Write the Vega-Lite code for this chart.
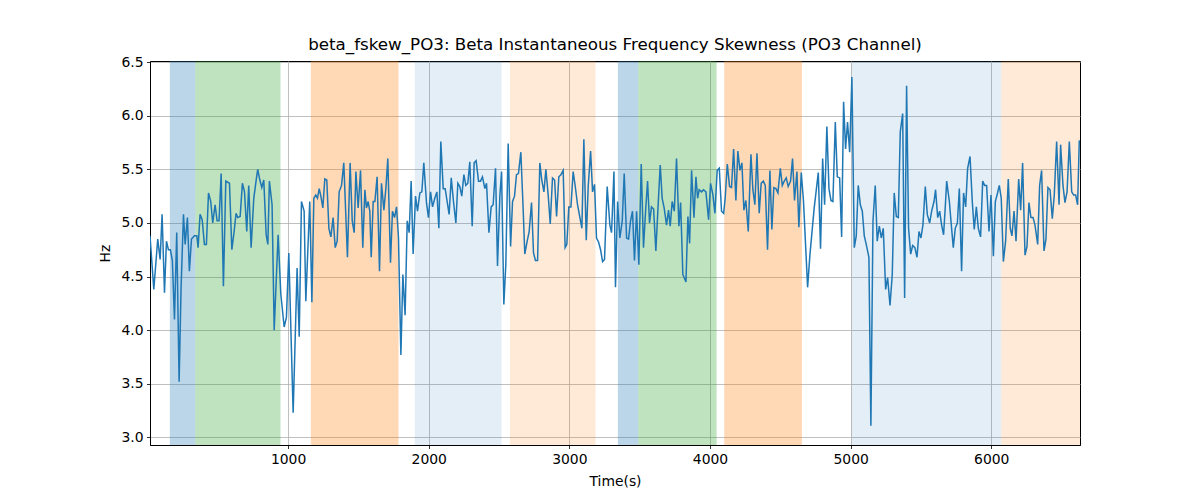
{
  "$schema": "https://vega.github.io/schema/vega-lite/v6.json",
  "width": 930,
  "height": 384,
  "autosize": {"type": "none"},
  "padding": {"left": 150, "top": 61, "right": 120, "bottom": 55},
  "background": "white",
  "title": {"text": "beta_fskew_PO3: Beta Instantaneous Frequency Skewness (PO3 Channel)", "font": "DejaVu Sans", "fontSize": 16.7, "fontWeight": "normal", "color": "black", "offset": 1},
  "config": {
    "view": {"stroke": "black", "strokeWidth": 1},
    "axis": {"labelFont": "DejaVu Sans", "labelFontSize": 13.9, "labelColor": "black", "titleFont": "DejaVu Sans", "titleFontSize": 13.9, "titleFontWeight": "normal", "titleColor": "black", "tickColor": "black", "tickSize": 3.5, "tickWidth": 0.8, "domainColor": "black", "domainWidth": 1, "gridColor": "#b0b0b0", "gridWidth": 0.8, "labelPadding": 3.5, "grid": true}
  },
  "datasets": {
    "bands": [
      {"start": 159, "end": 341, "period": "P1"},
      {"start": 341, "end": 946, "period": "P2"},
      {"start": 1162, "end": 1785, "period": "P3"},
      {"start": 1901, "end": 2518, "period": "P4"},
      {"start": 2577, "end": 3186, "period": "P5"},
      {"start": 3345, "end": 3490, "period": "P1"},
      {"start": 3490, "end": 4047, "period": "P2"},
      {"start": 4101, "end": 4654, "period": "P3"},
      {"start": 5007, "end": 6071, "period": "P4"},
      {"start": 6071, "end": 6631, "period": "P5"}
    ],
    "series": [
      {"t":18,"hz":4.88},{"t":45,"hz":4.38},{"t":73,"hz":4.85},{"t":90,"hz":4.66},{"t":104,"hz":5.08},{"t":121,"hz":4.35},{"t":135,"hz":4.83},{"t":149,"hz":4.75},{"t":163,"hz":4.75},{"t":177,"hz":4.65},{"t":192,"hz":4.10},{"t":208,"hz":4.91},{"t":225,"hz":3.52},{"t":239,"hz":4.40},{"t":256,"hz":5.08},{"t":268,"hz":4.80},{"t":284,"hz":5.05},{"t":298,"hz":4.55},{"t":313,"hz":4.85},{"t":334,"hz":4.88},{"t":351,"hz":4.88},{"t":360,"hz":4.77},{"t":374,"hz":5.08},{"t":389,"hz":5.03},{"t":405,"hz":4.80},{"t":419,"hz":4.80},{"t":434,"hz":5.28},{"t":450,"hz":5.20},{"t":464,"hz":5.00},{"t":481,"hz":5.17},{"t":495,"hz":5.02},{"t":509,"hz":5.02},{"t":524,"hz":5.46},{"t":540,"hz":4.41},{"t":557,"hz":5.39},{"t":583,"hz":5.37},{"t":600,"hz":4.75},{"t":616,"hz":4.92},{"t":630,"hz":5.09},{"t":642,"hz":5.05},{"t":659,"hz":5.06},{"t":675,"hz":5.37},{"t":690,"hz":5.29},{"t":706,"hz":4.92},{"t":720,"hz":5.35},{"t":737,"hz":4.77},{"t":756,"hz":5.23},{"t":773,"hz":5.40},{"t":784,"hz":5.50},{"t":799,"hz":5.40},{"t":813,"hz":5.33},{"t":827,"hz":5.40},{"t":844,"hz":4.89},{"t":856,"hz":4.80},
      {"t":867,"hz":5.39},{"t":886,"hz":5.17},{"t":901,"hz":4.00},{"t":929,"hz":4.89},{"t":948,"hz":4.34},{"t":972,"hz":4.03},{"t":988,"hz":4.12},{"t":1005,"hz":4.72},{"t":1036,"hz":3.23},{"t":1064,"hz":4.58},{"t":1079,"hz":3.94},{"t":1095,"hz":5.20},{"t":1114,"hz":5.11},{"t":1126,"hz":4.27},{"t":1154,"hz":5.20},{"t":1169,"hz":4.26},{"t":1183,"hz":5.23},{"t":1197,"hz":5.26},{"t":1209,"hz":5.23},{"t":1221,"hz":5.32},{"t":1233,"hz":5.25},{"t":1247,"hz":5.14},{"t":1261,"hz":5.41},{"t":1275,"hz":5.40},{"t":1290,"hz":4.95},{"t":1304,"hz":4.87},{"t":1320,"hz":5.05},{"t":1335,"hz":4.77},{"t":1349,"hz":4.83},{"t":1363,"hz":5.29},{"t":1380,"hz":5.35},{"t":1396,"hz":5.56},{"t":1422,"hz":4.68},{"t":1441,"hz":5.56},{"t":1456,"hz":5.02},{"t":1470,"hz":4.91},{"t":1482,"hz":5.48},{"t":1498,"hz":5.14},{"t":1515,"hz":5.49},{"t":1531,"hz":4.77},{"t":1546,"hz":5.31},{"t":1557,"hz":5.14},{"t":1569,"hz":5.20},{"t":1581,"hz":5.11},{"t":1591,"hz":4.68},{"t":1605,"hz":5.20},{"t":1617,"hz":5.20},{"t":1633,"hz":5.43},{"t":1650,"hz":4.55},{"t":1664,"hz":5.37},
      {"t":1681,"hz":5.12},{"t":1695,"hz":5.32},{"t":1709,"hz":5.60},{"t":1728,"hz":4.63},{"t":1742,"hz":5.11},{"t":1757,"hz":5.05},{"t":1771,"hz":5.15},{"t":1785,"hz":4.86},{"t":1802,"hz":3.77},{"t":1816,"hz":4.52},{"t":1832,"hz":4.14},{"t":1847,"hz":5.02},{"t":1861,"hz":4.91},{"t":1875,"hz":5.39},{"t":1889,"hz":4.71},{"t":1906,"hz":5.25},{"t":1920,"hz":5.11},{"t":1937,"hz":5.28},{"t":1951,"hz":5.29},{"t":1965,"hz":5.56},{"t":1984,"hz":5.19},{"t":1998,"hz":5.05},{"t":2013,"hz":5.29},{"t":2027,"hz":5.15},{"t":2043,"hz":5.23},{"t":2058,"hz":5.29},{"t":2072,"hz":4.95},{"t":2086,"hz":5.76},{"t":2103,"hz":5.32},{"t":2117,"hz":5.32},{"t":2131,"hz":5.20},{"t":2145,"hz":5.08},{"t":2160,"hz":5.42},{"t":2176,"hz":5.20},{"t":2193,"hz":5.00},{"t":2207,"hz":5.37},{"t":2221,"hz":5.34},{"t":2235,"hz":5.25},{"t":2250,"hz":5.45},{"t":2264,"hz":5.35},{"t":2278,"hz":5.37},{"t":2292,"hz":5.57},{"t":2309,"hz":4.97},{"t":2323,"hz":5.56},{"t":2337,"hz":5.58},{"t":2354,"hz":5.39},{"t":2368,"hz":5.39},{"t":2382,"hz":5.43},{"t":2399,"hz":5.32},{"t":2411,"hz":5.37},{"t":2428,"hz":4.91},{"t":2444,"hz":5.15},{"t":2458,"hz":5.17},{"t":2475,"hz":5.51},{"t":2489,"hz":4.60},{"t":2506,"hz":5.26},
      {"t":2518,"hz":5.48},{"t":2534,"hz":4.24},{"t":2548,"hz":4.61},{"t":2565,"hz":5.74},{"t":2582,"hz":4.78},{"t":2596,"hz":5.20},{"t":2610,"hz":5.25},{"t":2624,"hz":5.45},{"t":2638,"hz":5.46},{"t":2655,"hz":5.66},{"t":2672,"hz":5.11},{"t":2683,"hz":4.71},{"t":2700,"hz":4.83},{"t":2714,"hz":4.92},{"t":2731,"hz":5.19},{"t":2745,"hz":4.72},{"t":2759,"hz":4.65},{"t":2774,"hz":4.65},{"t":2790,"hz":5.56},{"t":2804,"hz":5.40},{"t":2819,"hz":5.29},{"t":2833,"hz":5.50},{"t":2850,"hz":5.25},{"t":2864,"hz":4.99},{"t":2880,"hz":5.42},{"t":2895,"hz":5.40},{"t":2909,"hz":5.06},{"t":2925,"hz":5.43},{"t":2940,"hz":5.45},{"t":2956,"hz":5.49},{"t":2970,"hz":4.77},{"t":2982,"hz":4.80},{"t":2996,"hz":5.15},{"t":3011,"hz":5.15},{"t":3027,"hz":5.48},{"t":3042,"hz":5.34},{"t":3058,"hz":5.17},{"t":3075,"hz":5.05},{"t":3089,"hz":4.95},{"t":3103,"hz":5.78},{"t":3120,"hz":4.84},{"t":3134,"hz":5.34},{"t":3151,"hz":5.67},{"t":3165,"hz":5.29},{"t":3179,"hz":5.36},{"t":3193,"hz":4.86},{"t":3208,"hz":4.82},{"t":3222,"hz":4.75},{"t":3236,"hz":4.64},{"t":3250,"hz":4.66},{"t":3269,"hz":5.34},{"t":3288,"hz":4.98},{"t":3300,"hz":4.91},{"t":3317,"hz":5.48},
      {"t":3328,"hz":4.40},{"t":3343,"hz":5.20},{"t":3359,"hz":4.86},{"t":3376,"hz":5.02},{"t":3390,"hz":5.46},{"t":3407,"hz":4.86},{"t":3421,"hz":4.85},{"t":3435,"hz":5.02},{"t":3449,"hz":5.11},{"t":3463,"hz":4.65},{"t":3478,"hz":5.11},{"t":3494,"hz":4.61},{"t":3511,"hz":5.55},{"t":3527,"hz":4.77},{"t":3542,"hz":5.11},{"t":3556,"hz":5.39},{"t":3570,"hz":5.00},{"t":3584,"hz":5.15},{"t":3599,"hz":5.13},{"t":3615,"hz":4.74},{"t":3629,"hz":5.11},{"t":3646,"hz":5.54},{"t":3660,"hz":5.23},{"t":3674,"hz":5.14},{"t":3691,"hz":4.98},{"t":3705,"hz":5.12},{"t":3717,"hz":4.97},{"t":3731,"hz":5.20},{"t":3746,"hz":5.11},{"t":3762,"hz":5.60},{"t":3779,"hz":4.97},{"t":3791,"hz":5.19},{"t":3807,"hz":4.52},{"t":3829,"hz":4.45},{"t":3843,"hz":5.06},{"t":3855,"hz":4.81},{"t":3869,"hz":5.49},{"t":3886,"hz":5.05},{"t":3900,"hz":5.43},{"t":3912,"hz":5.23},{"t":3923,"hz":5.31},{"t":3940,"hz":5.29},{"t":3954,"hz":5.31},{"t":3971,"hz":5.29},{"t":3990,"hz":5.03},{"t":4004,"hz":5.37},{"t":4021,"hz":5.26},{"t":4035,"hz":5.09},{"t":4051,"hz":5.49},{"t":4066,"hz":5.51},{"t":4082,"hz":5.11},{"t":4097,"hz":5.09},{"t":4108,"hz":5.23},{"t":4123,"hz":5.55},
      {"t":4139,"hz":5.34},{"t":4153,"hz":5.33},{"t":4168,"hz":5.69},{"t":4184,"hz":5.21},{"t":4198,"hz":5.67},{"t":4213,"hz":5.49},{"t":4227,"hz":5.56},{"t":4241,"hz":5.12},{"t":4255,"hz":5.21},{"t":4272,"hz":4.92},{"t":4291,"hz":5.64},{"t":4305,"hz":5.31},{"t":4319,"hz":5.17},{"t":4334,"hz":5.65},{"t":4350,"hz":5.09},{"t":4364,"hz":5.37},{"t":4379,"hz":5.39},{"t":4393,"hz":5.35},{"t":4409,"hz":4.75},{"t":4426,"hz":5.49},{"t":4440,"hz":4.94},{"t":4454,"hz":5.33},{"t":4469,"hz":5.32},{"t":4483,"hz":5.28},{"t":4500,"hz":5.51},{"t":4514,"hz":5.35},{"t":4528,"hz":5.39},{"t":4542,"hz":5.42},{"t":4556,"hz":5.34},{"t":4573,"hz":5.39},{"t":4587,"hz":5.60},{"t":4601,"hz":5.21},{"t":4618,"hz":5.48},{"t":4632,"hz":4.96},{"t":4649,"hz":5.47},{"t":4665,"hz":5.20},{"t":4694,"hz":4.40},{"t":4711,"hz":4.71},{"t":4741,"hz":5.14},{"t":4770,"hz":5.47},{"t":4786,"hz":4.76},{"t":4801,"hz":5.60},{"t":4815,"hz":5.17},{"t":4831,"hz":5.90},{"t":4846,"hz":5.32},{"t":4860,"hz":5.21},{"t":4874,"hz":5.20},{"t":4891,"hz":5.94},{"t":4905,"hz":5.43},{"t":4922,"hz":5.42},{"t":4936,"hz":4.87},{"t":4950,"hz":6.13},
      {"t":4964,"hz":5.69},{"t":4978,"hz":5.94},{"t":4993,"hz":5.66},{"t":5009,"hz":6.36},{"t":5026,"hz":4.77},{"t":5040,"hz":4.88},{"t":5054,"hz":5.35},{"t":5069,"hz":5.17},{"t":5083,"hz":5.11},{"t":5097,"hz":4.88},{"t":5111,"hz":4.80},{"t":5130,"hz":4.68},{"t":5144,"hz":3.11},{"t":5159,"hz":5.02},{"t":5175,"hz":5.35},{"t":5189,"hz":4.83},{"t":5204,"hz":4.97},{"t":5218,"hz":4.86},{"t":5232,"hz":4.95},{"t":5249,"hz":4.38},{"t":5263,"hz":4.49},{"t":5280,"hz":4.23},{"t":5296,"hz":4.52},{"t":5310,"hz":5.28},{"t":5325,"hz":5.06},{"t":5339,"hz":5.05},{"t":5353,"hz":5.85},{"t":5370,"hz":6.02},{"t":5384,"hz":4.30},{"t":5398,"hz":6.28},{"t":5412,"hz":4.95},{"t":5427,"hz":4.71},{"t":5441,"hz":4.79},{"t":5457,"hz":4.77},{"t":5472,"hz":4.68},{"t":5486,"hz":4.92},{"t":5500,"hz":4.86},{"t":5514,"hz":4.98},{"t":5531,"hz":5.34},{"t":5545,"hz":5.08},{"t":5562,"hz":5.00},{"t":5576,"hz":5.11},{"t":5593,"hz":5.20},{"t":5604,"hz":5.31},{"t":5619,"hz":5.05},{"t":5633,"hz":5.11},{"t":5647,"hz":4.98},{"t":5661,"hz":4.89},{"t":5673,"hz":5.15},{"t":5683,"hz":5.39},{"t":5702,"hz":5.20},{"t":5716,"hz":4.98},{"t":5730,"hz":4.77},{"t":5744,"hz":4.95},{"t":5759,"hz":5.00},{"t":5773,"hz":5.32},
      {"t":5789,"hz":4.55},{"t":5803,"hz":5.28},{"t":5818,"hz":5.15},{"t":5832,"hz":5.51},{"t":5849,"hz":5.62},{"t":5865,"hz":5.20},{"t":5879,"hz":4.94},{"t":5894,"hz":5.15},{"t":5908,"hz":4.95},{"t":5924,"hz":4.87},{"t":5939,"hz":5.39},{"t":5953,"hz":5.35},{"t":5967,"hz":5.35},{"t":5984,"hz":4.92},{"t":5998,"hz":5.26},{"t":6015,"hz":4.69},{"t":6029,"hz":5.20},{"t":6043,"hz":5.27},{"t":6057,"hz":5.35},{"t":6071,"hz":5.23},{"t":6086,"hz":4.64},{"t":6102,"hz":4.83},{"t":6121,"hz":5.41},{"t":6135,"hz":4.95},{"t":6147,"hz":4.88},{"t":6162,"hz":5.11},{"t":6176,"hz":4.83},{"t":6195,"hz":5.41},{"t":6209,"hz":5.12},{"t":6223,"hz":5.56},{"t":6240,"hz":4.70},{"t":6254,"hz":4.78},{"t":6268,"hz":5.19},{"t":6282,"hz":5.05},{"t":6297,"hz":5.05},{"t":6311,"hz":4.98},{"t":6330,"hz":4.80},{"t":6344,"hz":5.35},{"t":6358,"hz":5.49},{"t":6375,"hz":4.74},{"t":6389,"hz":4.85},{"t":6403,"hz":5.33},{"t":6418,"hz":5.31},{"t":6434,"hz":5.04},{"t":6448,"hz":5.26},{"t":6465,"hz":5.76},{"t":6482,"hz":5.17},{"t":6493,"hz":5.73},{"t":6510,"hz":5.35},{"t":6524,"hz":5.19},{"t":6539,"hz":5.29},{"t":6555,"hz":5.76},{"t":6572,"hz":5.29},{"t":6586,"hz":5.26},{"t":6600,"hz":5.26},{"t":6614,"hz":5.17},{"t":6626,"hz":5.77}
    ]
  },
  "layer": [
    {
      "data": {"name": "bands"},
      "mark": {"type": "rect", "clip": true},
      "encoding": {
        "x": {"field": "start", "type": "quantitative", "scale": {"domain": [18, 6631], "nice": false, "zero": false}, "axis": {"title": "Time(s)", "values": [1000, 2000, 3000, 4000, 5000, 6000], "format": "d", "titlePadding": 9}},
        "x2": {"field": "end"},
        "color": {"field": "period", "type": "nominal", "legend": null, "scale": {"domain": ["P1", "P2", "P3", "P4", "P5"], "range": ["rgba(31,119,180,0.3)", "rgba(44,160,44,0.3)", "rgba(255,127,14,0.3)", "rgba(31,119,180,0.12)", "rgba(255,127,14,0.16)"]}}
      }
    },
    {
      "data": {"name": "series"},
      "mark": {"type": "line", "color": "#1f77b4", "strokeWidth": 1.5, "clip": true},
      "encoding": {
        "x": {"field": "t", "type": "quantitative", "axis": {"title": "Time(s)", "values": [1000, 2000, 3000, 4000, 5000, 6000], "format": "d", "titlePadding": 9}},
        "y": {"field": "hz", "type": "quantitative", "scale": {"domain": [2.93, 6.51], "nice": false, "zero": false}, "axis": {"title": "Hz", "values": [3, 3.5, 4, 4.5, 5, 5.5, 6, 6.5], "format": ".1f", "titlePadding": 8}}
      }
    }
  ]
}
